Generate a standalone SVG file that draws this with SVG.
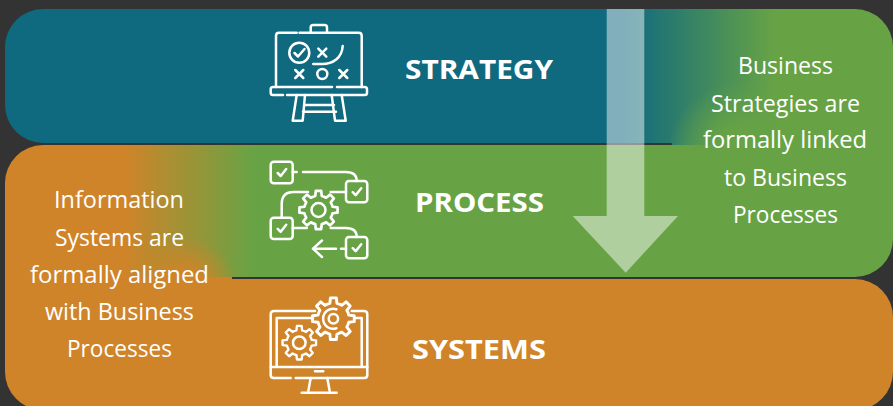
<svg xmlns="http://www.w3.org/2000/svg" xmlns:xlink="http://www.w3.org/1999/xlink" width="893" height="406" viewBox="0 0 893 406">
<style>
.ic{fill:none;stroke:#fff;stroke-width:2.5;stroke-linecap:round;stroke-linejoin:round}
.ic *{vector-effect:non-scaling-stroke}
.head{font-family:"Open Sans","Roboto",sans-serif;font-weight:700;font-size:27px;fill:#fff}
.body{font-family:"Open Sans","Lato",sans-serif;font-size:24px;fill:#fff;text-anchor:middle;font-variant-ligatures:none}
</style>
<defs>
<linearGradient id="gt" gradientUnits="userSpaceOnUse" x1="625" y1="0" x2="775" y2="0"><stop offset="0" stop-color="#0f697f"/><stop offset="1" stop-color="#67a345"/></linearGradient>
<linearGradient id="gm" gradientUnits="userSpaceOnUse" x1="125" y1="0" x2="255" y2="0"><stop offset="0" stop-color="#cf8429"/><stop offset="1" stop-color="#67a345"/></linearGradient>
<radialGradient id="wr" gradientUnits="userSpaceOnUse" cx="738" cy="152" r="70"><stop offset=".3" stop-color="#67a345"/><stop offset="1" stop-color="#67a345" stop-opacity="0"/></radialGradient>
<radialGradient id="wl" gradientUnits="userSpaceOnUse" cx="185" cy="288" r="52"><stop offset=".3" stop-color="#cf8429"/><stop offset="1" stop-color="#cf8429" stop-opacity="0"/></radialGradient>
<path id="gear" d="M13.15,-3.04L17.82,-2.51L17.82,2.51L13.15,3.04A13.5,13.5 0 0 1 11.45,7.15L14.38,10.83L10.83,14.38L7.15,11.45A13.5,13.5 0 0 1 3.04,13.15L2.51,17.82L-2.51,17.82L-3.04,13.15A13.5,13.5 0 0 1 -7.15,11.45L-10.83,14.38L-14.38,10.83L-11.45,7.15A13.5,13.5 0 0 1 -13.15,3.04L-17.82,2.51L-17.82,-2.51L-13.15,-3.04A13.5,13.5 0 0 1 -11.45,-7.15L-14.38,-10.83L-10.83,-14.38L-7.15,-11.45A13.5,13.5 0 0 1 -3.04,-13.15L-2.51,-17.82L2.51,-17.82L3.04,-13.15A13.5,13.5 0 0 1 7.15,-11.45L10.83,-14.38L14.38,-10.83L11.45,-7.15A13.5,13.5 0 0 1 13.15,-3.04Z"/>
<path id="chk" d="M-4,0.5L-1,3.5L4.5,-3.5"/>
</defs>
<rect width="893" height="406" fill="#333333"/>
<g id="systems">
<rect x="5" y="279" width="888" height="131" rx="38" fill="#cf8429"/>
<rect x="5" y="277" width="227" height="50" fill="#cf8429"/>
<g class="ic">
<path d="M315,311H274q-3.300,0-3.300,3.300V375q0,3,3,3H290.700M295.700,378H364.300q3,0,3-3V314.300q0-3.300-3.300-3.300H351.700"/>
<path d="M313,318H276.700V367M355,318H361.700V367M270.700,367H367.300M315,371.300H323.300"/>
<path d="M310.700,378L308,392.700M327.300,378L330,392.700M301.700,392.700H336.700"/>
<use href="#gear" transform="translate(299.300 342.700) scale(.94)"/>
<circle cx="299.300" cy="342.700" r="6.300"/>
<use href="#gear" transform="translate(333.400 318.700) scale(1.17)"/>
<circle cx="333.400" cy="318.700" r="4.700"/>
<path d="M336.400,309.300A10,10 0 1 0 336.400,328.200"/>
</g>
<text class="head" x="412" y="359" textLength="134" lengthAdjust="spacingAndGlyphs">SYSTEMS</text>
</g>
<g id="strategy">
<path d="M43,9H855A38,38 0 0 1 893,47V147H672V143H43A38,38 0 0 1 5,105V47A38,38 0 0 1 43,9Z" fill="url(#gt)"/>
<rect x="650" y="60" width="243" height="87" fill="url(#wr)"/>
<g class="ic">
<path d="M296.700,32.700H279q-3,0-3,3V87M299.500,32.700H358.700q3,0,3,3V87"/>
<path d="M310.700,32.700V27.500q0-2.500,2.500-2.500H324.500q2.500,0,2.500,2.500V32.700"/>
<path d="M332,87H273q-2.300,0-2.300,2.300V92.700q0,2.300,2.300,2.300H283M287,95H364.700q2.300,0,2.300-2.300V89.300q0-2.300-2.300-2.300H337"/>
<path d="M296.700,95L292.700,120.700H302.700L305,95M331.700,95L335,120.700H345.700L341.700,95M304,105H334M303,111.700H336"/>
<circle cx="299.300" cy="52.700" r="10"/>
<path d="M294.500,53L298,56.500L304.500,49"/>
<path d="M318.300,48.700L326.300,56.700M326.300,48.700L318.300,56.700"/>
<path d="M313.300,64H322C333,64 342,58 342.700,46"/>
<path d="M295.300,70L303.300,78M303.300,70L295.300,78"/>
<circle cx="322.300" cy="74" r="5"/>
<path d="M339.300,70L347.300,78M347.300,70L339.300,78"/>
</g>
<text class="head" x="405" y="79" textLength="148" lengthAdjust="spacingAndGlyphs">STRATEGY</text>
</g>
<g id="process">
<path d="M43,145H893V239A38,38 0 0 1 855,277H232V279H5V183A38,38 0 0 1 43,145Z" fill="url(#gm)"/>
<rect x="5" y="277" width="227" height="2.500" fill="#cf8429"/>
<rect x="120" y="220" width="115" height="57" fill="url(#wl)"/>
<g class="ic">
<rect x="270.700" y="161.700" width="22" height="21.500" rx="3"/>
<rect x="346" y="181" width="21.300" height="21.300" rx="3"/>
<rect x="270.700" y="217.700" width="22" height="21.300" rx="3"/>
<rect x="346" y="237" width="21.300" height="21.300" rx="3"/>
<use href="#chk" x="281.700" y="172.500"/>
<use href="#chk" x="356.700" y="191.700"/>
<use href="#chk" x="281.700" y="228.300"/>
<use href="#chk" x="356.700" y="247.700"/>
<path d="M292.700,172H296.700M303,172H346q10.700,0,10.700,9M346,192H330.700M281.700,217.700V204q0-12,12-12H308M292.700,228H306.700M330.700,228H346q10.700,0,10.700,9"/>
<path d="M336,248.700H313M322,240.500L313,248.700L322,257M346,248.700H341"/>
<use href="#gear" transform="translate(318.500 210) scale(1.07)"/>
<circle cx="318.500" cy="210" r="7"/>
</g>
<text class="head" x="415" y="212" textLength="129" lengthAdjust="spacingAndGlyphs">PROCESS</text>
</g>
<g id="connectors">
<path d="M606.700,9H644.300V216H678L625.700,272.700L572.700,216H606.700Z" fill="#fff" fill-opacity=".48"/>
</g>
<g id="note-right">
<text class="body" x="785.500" y="74" textLength="95" lengthAdjust="spacingAndGlyphs">Business</text>
<text class="body" x="785.500" y="112" textLength="149" lengthAdjust="spacingAndGlyphs">Strategies are</text>
<text class="body" x="785" y="148" textLength="164" lengthAdjust="spacingAndGlyphs">formally linked</text>
<text class="body" x="785.500" y="186" textLength="123" lengthAdjust="spacingAndGlyphs">to Business</text>
<text class="body" x="785.500" y="223" textLength="105" lengthAdjust="spacingAndGlyphs">Processes</text>
</g>
<g id="note-left">
<text class="body" x="119" y="208" textLength="130" lengthAdjust="spacingAndGlyphs">Information</text>
<text class="body" x="119.500" y="246" textLength="129" lengthAdjust="spacingAndGlyphs">Systems are</text>
<text class="body" x="119.500" y="283" textLength="179" lengthAdjust="spacingAndGlyphs">formally aligned</text>
<text class="body" x="119.500" y="320" textLength="149" lengthAdjust="spacingAndGlyphs">with Business</text>
<text class="body" x="119.500" y="357" textLength="105" lengthAdjust="spacingAndGlyphs">Processes</text>
</g>
</svg>
